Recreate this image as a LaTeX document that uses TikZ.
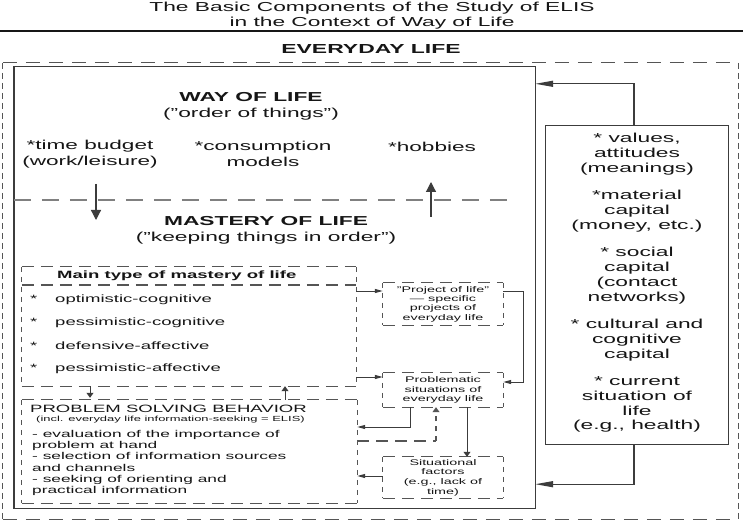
\documentclass[tikz,border=0pt]{standalone}
\usepackage{fontspec}
\setmainfont{Liberation Sans}[FakeStretch=1.75]
\usetikzlibrary{arrows.meta}
\definecolor{ink}{HTML}{161616}
\definecolor{linec}{HTML}{3C3C3C}
\definecolor{dashc}{HTML}{555555}
\definecolor{midc}{HTML}{808080}
\newcommand\fsz[2]{\fontsize{#1}{#2}\selectfont}
\newcommand\sq{\char34\relax}
\newcommand\dashframe[3]{%
  \draw[#2] (#1.north west) -- (#1.north east);
  \draw[#2] (#1.south west) -- (#1.south east);
  \draw[#3] (#1.north west) -- (#1.south west);
  \draw[#3] (#1.north east) -- (#1.south east);}
\begin{document}
\begin{tikzpicture}[x=1pt,y=-1pt,
  txt/.style={inner sep=0pt, text=ink, align=center},
  ltxt/.style={inner sep=0pt, text=ink, align=left},
  frame/.style={inner sep=0pt, draw=none},
  hdo/.style={draw=dashc, line width=1.2pt, dash pattern=on 14pt off 9pt},
  vdo/.style={draw=dashc, line width=1.2pt, dash pattern=on 6pt off 4pt},
  hds/.style={draw=dashc, line width=1.1pt, dash pattern=on 12pt off 7pt},
  vds/.style={draw=dashc, line width=1.1pt, dash pattern=on 5pt off 5pt},
  middash/.style={draw=midc, line width=1.2pt, dash pattern=on 17pt off 11pt},
  solidbox/.style={draw=linec, line width=1.4pt},
  bigh/.style={draw=linec, line width=1.2pt, -{Triangle[length=18pt,width=6pt]}},
  bigv/.style={draw=linec, line width=1.2pt, -{Triangle[length=10pt,width=10pt]}},
  smh/.style={draw=linec, line width=1pt, -{Triangle[length=8pt,width=4pt]}},
  smv/.style={draw=linec, line width=1pt, -{Triangle[length=5pt,width=7pt]}},
  smvd/.style={draw=dashc, line width=1.1pt, dash pattern=on 5pt off 5pt, -{Triangle[length=5pt,width=7pt]}}
]
\useasboundingbox (0,0) rectangle (743,526);
\fill[white] (0,0) rectangle (743,526);

% title
\node[txt, font=\fsz{13}{14.5}] (title) at (372,15.5) {The Basic Components of the Study of ELIS\\in the Context of Way of Life};
\coordinate (ruleL) at (0,31);
\coordinate (ruleR) at (743,31);
\draw[draw=ink, line width=2pt] (ruleL) -- (ruleR);
\node[txt, font=\fsz{13.1}{15}\bfseries, anchor=base] (everyday) at (371,54) {EVERYDAY LIFE};

% frames
\node[frame, minimum width=735, minimum height=456] (outer) at (370.5,291) {};
\dashframe{outer}{hdo}{vdo}
\node[frame, minimum width=521, minimum height=441] (wol) at (274.5,287.5) {};
\draw[solidbox] (wol.north west) rectangle (wol.south east);
\node[frame, minimum width=182, minimum height=318] (right) at (637,285) {};
\draw[solidbox, line width=1.2pt] (right.north west) rectangle (right.south east);

% way of life texts
\node[txt, font=\fsz{13}{16}] (wolt) at (251,106) {\textbf{WAY OF LIFE}\\(\sq order of things\sq)};
\node[txt, font=\fsz{12.9}{15.5}] (time) at (90,154) {*time budget\\(work/leisure)};
\node[txt, font=\fsz{12.9}{15.5}] (cons) at (263,154) {*consumption\\models};
\node[txt, font=\fsz{12.9}{15.5}] (hob) at (432,147) {*hobbies};

% middle dashed line and arrows
\coordinate (midR) at (517,200);
\draw[middash] (wol.west |- midR) -- (midR);
\coordinate (dA) at (96,184);
\coordinate (dB) at (96,220);
\draw[bigv] (dA) -- (dB);
\coordinate (uA) at (431,217);
\coordinate (uB) at (431,182);
\draw[bigv] (uA) -- (uB);

\node[txt, font=\fsz{13}{16}] (mol) at (266,230) {\textbf{MASTERY OF LIFE}\\(\sq keeping things in order\sq)};

% right box text
\node[txt, font=\fsz{13}{14.7}] (rtext) at (637,283) {* values,\\attitudes\\(meanings)\\[13pt]*material\\capital\\(money, etc.)\\[13pt]* social\\capital\\(contact\\networks)\\[13pt]* cultural and\\cognitive\\capital\\[13pt]* current\\situation of\\life\\(e.g., health)};

% arrows from right box
\coordinate (rTop) at ([xshift=-3pt]right.north);
\coordinate (wTop) at ([yshift=-17pt]wol.north east);
\draw[bigh] (rTop) |- (wTop);
\coordinate (rBot) at ([xshift=-3pt]right.south);
\coordinate (wBot) at ([yshift=24pt]wol.south east);
\draw[bigh] (rBot) |- (wBot);

% main type box
\node[frame, minimum width=334, minimum height=119] (maintype) at (189,326.5) {};
\dashframe{maintype}{hds}{vds}
\coordinate (sep) at (189,285);
\draw[hds] (maintype.west |- sep) -- (maintype.east |- sep);
\node[ltxt, font=\fsz{10.6}{12}\bfseries, anchor=west] (mth) at (57,276) {Main type of mastery of life};
\node[ltxt, font=\fsz{10.6}{12}, anchor=west] (it1) at (30,300) {\makebox[25pt][l]{*}optimistic-cognitive};
\node[ltxt, font=\fsz{10.6}{12}, anchor=west] (it2) at (30,323) {\makebox[25pt][l]{*}pessimistic-cognitive};
\node[ltxt, font=\fsz{10.6}{12}, anchor=west] (it3) at (30,346) {\makebox[25pt][l]{*}defensive-affective};
\node[ltxt, font=\fsz{10.6}{12}, anchor=west] (it4) at (30,369) {\makebox[25pt][l]{*}pessimistic-affective};

% problem solving box
\node[frame, minimum width=335, minimum height=103] (psb) at (189.5,451.5) {};
\dashframe{psb}{hds}{vds}
\node[ltxt, font=\fsz{10.6}{12}, anchor=west] (psbh) at (30,409) {PROBLEM SOLVING BEHAVIOR};
\node[ltxt, font=\fsz{7.4}{9}, anchor=west] (psbs) at (36,419.5) {(incl. everyday life information-seeking = ELIS)};
\node[ltxt, font=\fsz{9.9}{11.3}, anchor=west] (psbl) at (32,463) {- evaluation of the importance of\\problem at hand\\- selection of information sources\\and channels\\- seeking of orienting and\\practical information};

% small arrows between main type and psb
\coordinate (sx1) at (90,0);
\coordinate (sx2) at (285,0);
\draw[smv] (maintype.south -| sx1) -- ([yshift=2pt]psb.north -| sx1);
\draw[smv] (psb.north -| sx2) -- (maintype.south -| sx2);

% small boxes
\node[frame, minimum width=120, minimum height=42, font=\fsz{8.2}{9.3}, text=ink, align=center] (project) at (443,304) {\sq Project of life\sq\\— specific\\projects of\\everyday life};
\dashframe{project}{hds}{vds}
\node[frame, minimum width=120, minimum height=34, font=\fsz{8.2}{9.6}, text=ink, align=center] (problem) at (443,390) {Problematic\\situations of\\everyday life};
\dashframe{problem}{hds}{vds}
\node[frame, minimum width=120, minimum height=41, font=\fsz{8.2}{9.6}, text=ink, align=center] (situ) at (443,477.5) {Situational\\factors\\(e.g., lack of\\time)};
\dashframe{situ}{hds}{vds}

% connectors among the small boxes
\coordinate (pA) at ([yshift=13pt]project.west);
\draw[smh] (maintype.east |- pA) -- (pA);
\coordinate (pB) at ([yshift=13pt]problem.west);
\draw[smh] (maintype.east |- pB) -- (pB);
\coordinate (pC) at ([yshift=13pt]project.east);
\coordinate (pC2) at ([yshift=8pt]problem.east);
\draw[smh] (pC) -- ++(20,0) |- (pC2);
\coordinate (pD) at ([xshift=-33pt]problem.south);
\coordinate (qD) at ([yshift=24.5pt]psb.east);
\draw[smh] (pD) |- (qD);
\coordinate (qE) at ([yshift=10.5pt]psb.east);
\coordinate (pE) at ([xshift=-7pt]problem.south);
\draw[hds] (qE) -- (qE -| pE);
\draw[smvd] (qE -| pE) -- (pE);
\draw[smv] ([xshift=24pt]problem.south) -- ([xshift=24pt]situ.north);
\coordinate (pG) at ([yshift=1.5pt]situ.west);
\draw[smh] (pG) -- (psb.east |- pG);
\end{tikzpicture}
\end{document}
